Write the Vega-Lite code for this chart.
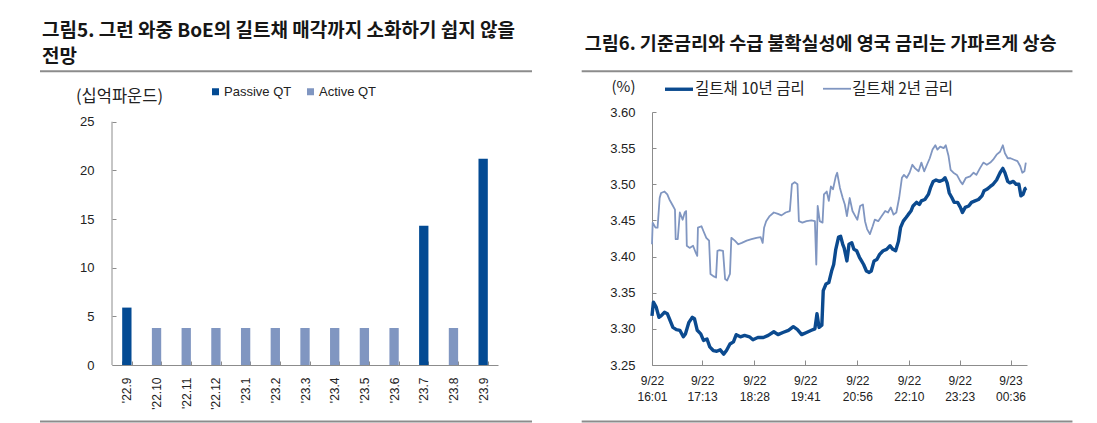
{
  "$schema": "https://vega.github.io/schema/vega-lite/v6.json",
  "background": "white",
  "padding": {"left": 39, "top": 22, "right": 10, "bottom": 0},
  "spacing": 46,
  "config": {
    "view": {"stroke": null},
    "font": "Liberation Sans",
    "axis": {
      "grid": false,
      "domainColor": "#8c8c8c",
      "tickColor": "#8c8c8c",
      "labelColor": "#222222",
      "labelFont": "Liberation Sans",
      "labelOverlap": false
    },
    "title": {
      "anchor": "start",
      "frame": "bounds",
      "font": "Noto Sans CJK KR",
      "fontSize": 18.5,
      "fontWeight": "bold",
      "color": "#161616"
    }
  },
  "resolve": {
    "scale": {"color": "independent", "strokeWidth": "independent"},
    "legend": {"color": "independent", "strokeWidth": "independent"}
  },
  "hconcat": [
    {
      "width": 386,
      "height": 253,
      "title": {
        "text": ["그림5. 그런 와중 BoE의 길트채 매각까지 소화하기 쉽지 않을", "전망"],
        "fontSize": 19,
        "lineHeight": 26,
        "offset": 3,
        "dx": 3
      },
      "data": {
        "values": [
          {"month": "'22.9", "series": "Passive QT", "value": 5.9},
          {"month": "'22.10", "series": "Active QT", "value": 3.8},
          {"month": "'22.11", "series": "Active QT", "value": 3.8},
          {"month": "'22.12", "series": "Active QT", "value": 3.8},
          {"month": "'23.1", "series": "Active QT", "value": 3.8},
          {"month": "'23.2", "series": "Active QT", "value": 3.8},
          {"month": "'23.3", "series": "Active QT", "value": 3.8},
          {"month": "'23.4", "series": "Active QT", "value": 3.8},
          {"month": "'23.5", "series": "Active QT", "value": 3.8},
          {"month": "'23.6", "series": "Active QT", "value": 3.8},
          {"month": "'23.7", "series": "Passive QT", "value": 14.3},
          {"month": "'23.8", "series": "Active QT", "value": 3.8},
          {"month": "'23.9", "series": "Passive QT", "value": 21.2}
        ]
      },
      "layer": [
        {
          "mark": {"type": "bar"},
          "encoding": {
            "x": {
              "field": "month",
              "type": "nominal",
              "sort": null,
              "scale": {"paddingInner": 0.686, "paddingOuter": 0.343},
              "axis": {
                "title": null,
                "labelAngle": 270,
                "labelFontSize": 12,
                "tickBand": "extent",
                "tickSize": -4,
                "labelPadding": 16
              }
            },
            "y": {
              "field": "value",
              "type": "quantitative",
              "stack": null,
              "scale": {"domain": [0, 26], "nice": false},
              "axis": {
                "values": [0, 5, 10, 15, 20, 25],
                "tickCount": 10,
                "domain": false,
                "tickSize": -4,
                "labelPadding": 22,
                "labelFontSize": 13,
                "title": "(십억파운드)",
                "titleAngle": 0,
                "titleAlign": "center",
                "titleBaseline": "middle",
                "titleX": 7,
                "titleY": -16,
                "titleFont": "Noto Sans CJK KR",
                "titleFontSize": 16.5,
                "titleFontWeight": "normal",
                "titleColor": "#222222"
              }
            },
            "color": {
              "field": "series",
              "type": "nominal",
              "scale": {"domain": ["Passive QT", "Active QT"], "range": ["#034a93", "#8096c1"]},
              "legend": {
                "title": null,
                "orient": "none",
                "legendX": 97,
                "legendY": -27,
                "direction": "horizontal",
                "symbolType": "square",
                "symbolSize": 49,
                "symbolStrokeWidth": 0,
                "labelFont": "Liberation Sans",
                "labelFontSize": 13,
                "labelColor": "#222222",
                "labelOffset": 2,
                "columnPadding": 12,
                "padding": 0
              }
            }
          }
        },
        {
          "data": {"values": [{}]},
          "mark": {"type": "rule", "color": "#8c8c8c", "strokeWidth": 2},
          "encoding": {
            "x": {"datum": -0.1865, "type": "quantitative", "scale": {"domain": [0, 1], "nice": false, "zero": false}, "axis": null},
            "x2": {"datum": 1.0881},
            "y": {"datum": 30.19, "type": "quantitative", "scale": {"domain": [0, 26], "nice": false}}
          }
        },
        {
          "data": {"values": [{}]},
          "mark": {"type": "rule", "color": "#8c8c8c", "strokeWidth": 2},
          "encoding": {
            "x": {"datum": -0.1865, "type": "quantitative", "scale": {"domain": [0, 1], "nice": false, "zero": false}, "axis": null},
            "x2": {"datum": 1.0881},
            "y": {"datum": -5.81, "type": "quantitative", "scale": {"domain": [0, 26], "nice": false}}
          }
        },
        {
          "data": {"values": [{}]},
          "mark": {"type": "rule", "color": "#8c8c8c", "strokeWidth": 1},
          "encoding": {
            "x": {"datum": 0, "type": "quantitative", "scale": {"domain": [0, 1], "nice": false, "zero": false}, "axis": null},
            "y": {"datum": 0, "type": "quantitative", "scale": {"domain": [0, 26], "nice": false}},
            "y2": {"datum": 25}
          }
        }
      ],
      "resolve": {"scale": {"x": "independent"}, "axis": {"x": "independent"}}
    },
    {
      "width": 375,
      "height": 253,
      "title": {
        "text": "그림6. 기준금리와 수급 불확실성에 영국 금리는 가파르게 상승",
        "offset": 17,
        "dx": 4
      },
      "data": {
        "values": [
          {"time": "2023-09-22T16:01", "series": "길트채 10년 금리", "rate": 3.318},
          {"time": "2023-09-22T16:03", "series": "길트채 10년 금리", "rate": 3.337},
          {"time": "2023-09-22T16:07", "series": "길트채 10년 금리", "rate": 3.330},
          {"time": "2023-09-22T16:11", "series": "길트채 10년 금리", "rate": 3.316},
          {"time": "2023-09-22T16:14", "series": "길트채 10년 금리", "rate": 3.318},
          {"time": "2023-09-22T16:19", "series": "길트채 10년 금리", "rate": 3.323},
          {"time": "2023-09-22T16:23", "series": "길트채 10년 금리", "rate": 3.321},
          {"time": "2023-09-22T16:26", "series": "길트채 10년 금리", "rate": 3.314},
          {"time": "2023-09-22T16:31", "series": "길트채 10년 금리", "rate": 3.302},
          {"time": "2023-09-22T16:36", "series": "길트채 10년 금리", "rate": 3.299},
          {"time": "2023-09-22T16:41", "series": "길트채 10년 금리", "rate": 3.298},
          {"time": "2023-09-22T16:46", "series": "길트채 10년 금리", "rate": 3.289},
          {"time": "2023-09-22T16:49", "series": "길트채 10년 금리", "rate": 3.293},
          {"time": "2023-09-22T16:54", "series": "길트채 10년 금리", "rate": 3.309},
          {"time": "2023-09-22T16:59", "series": "길트채 10년 금리", "rate": 3.316},
          {"time": "2023-09-22T17:02", "series": "길트채 10년 금리", "rate": 3.314},
          {"time": "2023-09-22T17:06", "series": "길트채 10년 금리", "rate": 3.298},
          {"time": "2023-09-22T17:11", "series": "길트채 10년 금리", "rate": 3.293},
          {"time": "2023-09-22T17:15", "series": "길트채 10년 금리", "rate": 3.284},
          {"time": "2023-09-22T17:20", "series": "길트채 10년 금리", "rate": 3.286},
          {"time": "2023-09-22T17:24", "series": "길트채 10년 금리", "rate": 3.275},
          {"time": "2023-09-22T17:29", "series": "길트채 10년 금리", "rate": 3.270},
          {"time": "2023-09-22T17:34", "series": "길트채 10년 금리", "rate": 3.269},
          {"time": "2023-09-22T17:39", "series": "길트채 10년 금리", "rate": 3.271},
          {"time": "2023-09-22T17:44", "series": "길트채 10년 금리", "rate": 3.265},
          {"time": "2023-09-22T17:48", "series": "길트채 10년 금리", "rate": 3.270},
          {"time": "2023-09-22T17:53", "series": "길트채 10년 금리", "rate": 3.279},
          {"time": "2023-09-22T17:58", "series": "길트채 10년 금리", "rate": 3.282},
          {"time": "2023-09-22T18:02", "series": "길트채 10년 금리", "rate": 3.292},
          {"time": "2023-09-22T18:08", "series": "길트채 10년 금리", "rate": 3.289},
          {"time": "2023-09-22T18:14", "series": "길트채 10년 금리", "rate": 3.291},
          {"time": "2023-09-22T18:21", "series": "길트채 10년 금리", "rate": 3.289},
          {"time": "2023-09-22T18:26", "series": "길트채 10년 금리", "rate": 3.285},
          {"time": "2023-09-22T18:33", "series": "길트채 10년 금리", "rate": 3.288},
          {"time": "2023-09-22T18:41", "series": "길트채 10년 금리", "rate": 3.288},
          {"time": "2023-09-22T18:48", "series": "길트채 10년 금리", "rate": 3.291},
          {"time": "2023-09-22T18:56", "series": "길트채 10년 금리", "rate": 3.296},
          {"time": "2023-09-22T19:02", "series": "길트채 10년 금리", "rate": 3.292},
          {"time": "2023-09-22T19:09", "series": "길트채 10년 금리", "rate": 3.295},
          {"time": "2023-09-22T19:17", "series": "길트채 10년 금리", "rate": 3.298},
          {"time": "2023-09-22T19:24", "series": "길트채 10년 금리", "rate": 3.303},
          {"time": "2023-09-22T19:30", "series": "길트채 10년 금리", "rate": 3.299},
          {"time": "2023-09-22T19:36", "series": "길트채 10년 금리", "rate": 3.292},
          {"time": "2023-09-22T19:43", "series": "길트채 10년 금리", "rate": 3.295},
          {"time": "2023-09-22T19:50", "series": "길트채 10년 금리", "rate": 3.298},
          {"time": "2023-09-22T19:55", "series": "길트채 10년 금리", "rate": 3.300},
          {"time": "2023-09-22T19:58", "series": "길트채 10년 금리", "rate": 3.321},
          {"time": "2023-09-22T20:01", "series": "길트채 10년 금리", "rate": 3.302},
          {"time": "2023-09-22T20:05", "series": "길트채 10년 금리", "rate": 3.305},
          {"time": "2023-09-22T20:07", "series": "길트채 10년 금리", "rate": 3.353},
          {"time": "2023-09-22T20:11", "series": "길트채 10년 금리", "rate": 3.362},
          {"time": "2023-09-22T20:15", "series": "길트채 10년 금리", "rate": 3.364},
          {"time": "2023-09-22T20:19", "series": "길트채 10년 금리", "rate": 3.380},
          {"time": "2023-09-22T20:22", "series": "길트채 10년 금리", "rate": 3.389},
          {"time": "2023-09-22T20:25", "series": "길트채 10년 금리", "rate": 3.410},
          {"time": "2023-09-22T20:29", "series": "길트채 10년 금리", "rate": 3.427},
          {"time": "2023-09-22T20:32", "series": "길트채 10년 금리", "rate": 3.428},
          {"time": "2023-09-22T20:35", "series": "길트채 10년 금리", "rate": 3.417},
          {"time": "2023-09-22T20:37", "series": "길트채 10년 금리", "rate": 3.412},
          {"time": "2023-09-22T20:41", "series": "길트채 10년 금리", "rate": 3.394},
          {"time": "2023-09-22T20:44", "series": "길트채 10년 금리", "rate": 3.417},
          {"time": "2023-09-22T20:48", "series": "길트채 10년 금리", "rate": 3.419},
          {"time": "2023-09-22T20:51", "series": "길트채 10년 금리", "rate": 3.410},
          {"time": "2023-09-22T20:55", "series": "길트채 10년 금리", "rate": 3.408},
          {"time": "2023-09-22T20:59", "series": "길트채 10년 금리", "rate": 3.399},
          {"time": "2023-09-22T21:02", "series": "길트채 10년 금리", "rate": 3.394},
          {"time": "2023-09-22T21:05", "series": "길트채 10년 금리", "rate": 3.389},
          {"time": "2023-09-22T21:09", "series": "길트채 10년 금리", "rate": 3.380},
          {"time": "2023-09-22T21:13", "series": "길트채 10년 금리", "rate": 3.378},
          {"time": "2023-09-22T21:16", "series": "길트채 10년 금리", "rate": 3.380},
          {"time": "2023-09-22T21:20", "series": "길트채 10년 금리", "rate": 3.394},
          {"time": "2023-09-22T21:24", "series": "길트채 10년 금리", "rate": 3.396},
          {"time": "2023-09-22T21:28", "series": "길트채 10년 금리", "rate": 3.403},
          {"time": "2023-09-22T21:33", "series": "길트채 10년 금리", "rate": 3.408},
          {"time": "2023-09-22T21:38", "series": "길트채 10년 금리", "rate": 3.410},
          {"time": "2023-09-22T21:43", "series": "길트채 10년 금리", "rate": 3.415},
          {"time": "2023-09-22T21:47", "series": "길트채 10년 금리", "rate": 3.410},
          {"time": "2023-09-22T21:51", "series": "길트채 10년 금리", "rate": 3.408},
          {"time": "2023-09-22T21:55", "series": "길트채 10년 금리", "rate": 3.421},
          {"time": "2023-09-22T21:58", "series": "길트채 10년 금리", "rate": 3.440},
          {"time": "2023-09-22T22:02", "series": "길트채 10년 금리", "rate": 3.449},
          {"time": "2023-09-22T22:06", "series": "길트채 10년 금리", "rate": 3.454},
          {"time": "2023-09-22T22:09", "series": "길트채 10년 금리", "rate": 3.458},
          {"time": "2023-09-22T22:13", "series": "길트채 10년 금리", "rate": 3.463},
          {"time": "2023-09-22T22:16", "series": "길트채 10년 금리", "rate": 3.470},
          {"time": "2023-09-22T22:21", "series": "길트채 10년 금리", "rate": 3.475},
          {"time": "2023-09-22T22:25", "series": "길트채 10년 금리", "rate": 3.472},
          {"time": "2023-09-22T22:28", "series": "길트채 10년 금리", "rate": 3.477},
          {"time": "2023-09-22T22:33", "series": "길트채 10년 금리", "rate": 3.479},
          {"time": "2023-09-22T22:38", "series": "길트채 10년 금리", "rate": 3.486},
          {"time": "2023-09-22T22:41", "series": "길트채 10년 금리", "rate": 3.495},
          {"time": "2023-09-22T22:45", "series": "길트채 10년 금리", "rate": 3.504},
          {"time": "2023-09-22T22:49", "series": "길트채 10년 금리", "rate": 3.506},
          {"time": "2023-09-22T22:54", "series": "길트채 10년 금리", "rate": 3.504},
          {"time": "2023-09-22T22:59", "series": "길트채 10년 금리", "rate": 3.506},
          {"time": "2023-09-22T23:02", "series": "길트채 10년 금리", "rate": 3.509},
          {"time": "2023-09-22T23:05", "series": "길트채 10년 금리", "rate": 3.502},
          {"time": "2023-09-22T23:08", "series": "길트채 10년 금리", "rate": 3.488},
          {"time": "2023-09-22T23:12", "series": "길트채 10년 금리", "rate": 3.481},
          {"time": "2023-09-22T23:15", "series": "길트채 10년 금리", "rate": 3.475},
          {"time": "2023-09-22T23:20", "series": "길트채 10년 금리", "rate": 3.475},
          {"time": "2023-09-22T23:24", "series": "길트채 10년 금리", "rate": 3.468},
          {"time": "2023-09-22T23:27", "series": "길트채 10년 금리", "rate": 3.461},
          {"time": "2023-09-22T23:31", "series": "길트채 10년 금리", "rate": 3.468},
          {"time": "2023-09-22T23:36", "series": "길트채 10년 금리", "rate": 3.470},
          {"time": "2023-09-22T23:40", "series": "길트채 10년 금리", "rate": 3.475},
          {"time": "2023-09-22T23:45", "series": "길트채 10년 금리", "rate": 3.477},
          {"time": "2023-09-22T23:50", "series": "길트채 10년 금리", "rate": 3.479},
          {"time": "2023-09-22T23:55", "series": "길트채 10년 금리", "rate": 3.484},
          {"time": "2023-09-22T23:58", "series": "길트채 10년 금리", "rate": 3.491},
          {"time": "2023-09-23T00:02", "series": "길트채 10년 금리", "rate": 3.493},
          {"time": "2023-09-23T00:07", "series": "길트채 10년 금리", "rate": 3.497},
          {"time": "2023-09-23T00:11", "series": "길트채 10년 금리", "rate": 3.500},
          {"time": "2023-09-23T00:16", "series": "길트채 10년 금리", "rate": 3.506},
          {"time": "2023-09-23T00:21", "series": "길트채 10년 금리", "rate": 3.516},
          {"time": "2023-09-23T00:25", "series": "길트채 10년 금리", "rate": 3.522},
          {"time": "2023-09-23T00:28", "series": "길트채 10년 금리", "rate": 3.516},
          {"time": "2023-09-23T00:32", "series": "길트채 10년 금리", "rate": 3.504},
          {"time": "2023-09-23T00:35", "series": "길트채 10년 금리", "rate": 3.502},
          {"time": "2023-09-23T00:40", "series": "길트채 10년 금리", "rate": 3.504},
          {"time": "2023-09-23T00:44", "series": "길트채 10년 금리", "rate": 3.500},
          {"time": "2023-09-23T00:48", "series": "길트채 10년 금리", "rate": 3.500},
          {"time": "2023-09-23T00:51", "series": "길트채 10년 금리", "rate": 3.484},
          {"time": "2023-09-23T00:54", "series": "길트채 10년 금리", "rate": 3.486},
          {"time": "2023-09-23T00:57", "series": "길트채 10년 금리", "rate": 3.494},
          {"time": "2023-09-23T00:59", "series": "길트채 10년 금리", "rate": 3.495},
          {"time": "2023-09-22T16:01", "series": "길트채 2년 금리", "rate": 3.417},
          {"time": "2023-09-22T16:02", "series": "길트채 2년 금리", "rate": 3.447},
          {"time": "2023-09-22T16:06", "series": "길트채 2년 금리", "rate": 3.440},
          {"time": "2023-09-22T16:09", "series": "길트채 2년 금리", "rate": 3.440},
          {"time": "2023-09-22T16:12", "series": "길트채 2년 금리", "rate": 3.481},
          {"time": "2023-09-22T16:14", "series": "길트채 2년 금리", "rate": 3.488},
          {"time": "2023-09-22T16:19", "series": "길트채 2년 금리", "rate": 3.490},
          {"time": "2023-09-22T16:23", "series": "길트채 2년 금리", "rate": 3.486},
          {"time": "2023-09-22T16:26", "series": "길트채 2년 금리", "rate": 3.479},
          {"time": "2023-09-22T16:30", "series": "길트채 2년 금리", "rate": 3.472},
          {"time": "2023-09-22T16:34", "series": "길트채 2년 금리", "rate": 3.465},
          {"time": "2023-09-22T16:35", "series": "길트채 2년 금리", "rate": 3.424},
          {"time": "2023-09-22T16:38", "series": "길트채 2년 금리", "rate": 3.424},
          {"time": "2023-09-22T16:41", "series": "길트채 2년 금리", "rate": 3.461},
          {"time": "2023-09-22T16:45", "series": "길트채 2년 금리", "rate": 3.451},
          {"time": "2023-09-22T16:48", "series": "길트채 2년 금리", "rate": 3.461},
          {"time": "2023-09-22T16:50", "series": "길트채 2년 금리", "rate": 3.463},
          {"time": "2023-09-22T16:51", "series": "길트채 2년 금리", "rate": 3.415},
          {"time": "2023-09-22T16:55", "series": "길트채 2년 금리", "rate": 3.412},
          {"time": "2023-09-22T17:00", "series": "길트채 2년 금리", "rate": 3.415},
          {"time": "2023-09-22T17:04", "series": "길트채 2년 금리", "rate": 3.405},
          {"time": "2023-09-22T17:06", "series": "길트채 2년 금리", "rate": 3.401},
          {"time": "2023-09-22T17:07", "series": "길트채 2년 금리", "rate": 3.440},
          {"time": "2023-09-22T17:12", "series": "길트채 2년 금리", "rate": 3.442},
          {"time": "2023-09-22T17:15", "series": "길트채 2년 금리", "rate": 3.435},
          {"time": "2023-09-22T17:19", "series": "길트채 2년 금리", "rate": 3.426},
          {"time": "2023-09-22T17:23", "series": "길트채 2년 금리", "rate": 3.422},
          {"time": "2023-09-22T17:25", "series": "길트채 2년 금리", "rate": 3.376},
          {"time": "2023-09-22T17:29", "series": "길트채 2년 금리", "rate": 3.373},
          {"time": "2023-09-22T17:33", "series": "길트채 2년 금리", "rate": 3.371},
          {"time": "2023-09-22T17:35", "series": "길트채 2년 금리", "rate": 3.408},
          {"time": "2023-09-22T17:38", "series": "길트채 2년 금리", "rate": 3.409},
          {"time": "2023-09-22T17:43", "series": "길트채 2년 금리", "rate": 3.408},
          {"time": "2023-09-22T17:46", "series": "길트채 2년 금리", "rate": 3.369},
          {"time": "2023-09-22T17:49", "series": "길트채 2년 금리", "rate": 3.367},
          {"time": "2023-09-22T17:53", "series": "길트채 2년 금리", "rate": 3.376},
          {"time": "2023-09-22T17:55", "series": "길트채 2년 금리", "rate": 3.426},
          {"time": "2023-09-22T18:00", "series": "길트채 2년 금리", "rate": 3.422},
          {"time": "2023-09-22T18:05", "series": "길트채 2년 금리", "rate": 3.417},
          {"time": "2023-09-22T18:10", "series": "길트채 2년 금리", "rate": 3.419},
          {"time": "2023-09-22T18:17", "series": "길트채 2년 금리", "rate": 3.422},
          {"time": "2023-09-22T18:24", "series": "길트채 2년 금리", "rate": 3.424},
          {"time": "2023-09-22T18:31", "series": "길트채 2년 금리", "rate": 3.426},
          {"time": "2023-09-22T18:37", "series": "길트채 2년 금리", "rate": 3.427},
          {"time": "2023-09-22T18:40", "series": "길트채 2년 금리", "rate": 3.419},
          {"time": "2023-09-22T18:42", "series": "길트채 2년 금리", "rate": 3.440},
          {"time": "2023-09-22T18:45", "series": "길트채 2년 금리", "rate": 3.449},
          {"time": "2023-09-22T18:50", "series": "길트채 2년 금리", "rate": 3.456},
          {"time": "2023-09-22T18:56", "series": "길트채 2년 금리", "rate": 3.461},
          {"time": "2023-09-22T19:02", "series": "길트채 2년 금리", "rate": 3.459},
          {"time": "2023-09-22T19:07", "series": "길트채 2년 금리", "rate": 3.457},
          {"time": "2023-09-22T19:13", "series": "길트채 2년 금리", "rate": 3.461},
          {"time": "2023-09-22T19:19", "series": "길트채 2년 금리", "rate": 3.463},
          {"time": "2023-09-22T19:22", "series": "길트채 2년 금리", "rate": 3.500},
          {"time": "2023-09-22T19:26", "series": "길트채 2년 금리", "rate": 3.503},
          {"time": "2023-09-22T19:30", "series": "길트채 2년 금리", "rate": 3.500},
          {"time": "2023-09-22T19:32", "series": "길트채 2년 금리", "rate": 3.449},
          {"time": "2023-09-22T19:37", "series": "길트채 2년 금리", "rate": 3.447},
          {"time": "2023-09-22T19:43", "series": "길트채 2년 금리", "rate": 3.449},
          {"time": "2023-09-22T19:50", "series": "길트채 2년 금리", "rate": 3.450},
          {"time": "2023-09-22T19:55", "series": "길트채 2년 금리", "rate": 3.449},
          {"time": "2023-09-22T19:57", "series": "길트채 2년 금리", "rate": 3.389},
          {"time": "2023-09-22T19:59", "series": "길트채 2년 금리", "rate": 3.470},
          {"time": "2023-09-22T20:02", "series": "길트채 2년 금리", "rate": 3.449},
          {"time": "2023-09-22T20:06", "series": "길트채 2년 금리", "rate": 3.447},
          {"time": "2023-09-22T20:08", "series": "길트채 2년 금리", "rate": 3.486},
          {"time": "2023-09-22T20:12", "series": "길트채 2년 금리", "rate": 3.490},
          {"time": "2023-09-22T20:15", "series": "길트채 2년 금리", "rate": 3.477},
          {"time": "2023-09-22T20:18", "series": "길트채 2년 금리", "rate": 3.497},
          {"time": "2023-09-22T20:21", "series": "길트채 2년 금리", "rate": 3.493},
          {"time": "2023-09-22T20:25", "series": "길트채 2년 금리", "rate": 3.511},
          {"time": "2023-09-22T20:27", "series": "길트채 2년 금리", "rate": 3.516},
          {"time": "2023-09-22T20:31", "series": "길트채 2년 금리", "rate": 3.495},
          {"time": "2023-09-22T20:35", "series": "길트채 2년 금리", "rate": 3.481},
          {"time": "2023-09-22T20:38", "series": "길트채 2년 금리", "rate": 3.472},
          {"time": "2023-09-22T20:41", "series": "길트채 2년 금리", "rate": 3.456},
          {"time": "2023-09-22T20:45", "series": "길트채 2년 금리", "rate": 3.481},
          {"time": "2023-09-22T20:49", "series": "길트채 2년 금리", "rate": 3.463},
          {"time": "2023-09-22T20:53", "series": "길트채 2년 금리", "rate": 3.456},
          {"time": "2023-09-22T20:56", "series": "길트채 2년 금리", "rate": 3.451},
          {"time": "2023-09-22T21:00", "series": "길트채 2년 금리", "rate": 3.470},
          {"time": "2023-09-22T21:04", "series": "길트채 2년 금리", "rate": 3.472},
          {"time": "2023-09-22T21:07", "series": "길트채 2년 금리", "rate": 3.449},
          {"time": "2023-09-22T21:10", "series": "길트채 2년 금리", "rate": 3.438},
          {"time": "2023-09-22T21:14", "series": "길트채 2년 금리", "rate": 3.431},
          {"time": "2023-09-22T21:18", "series": "길트채 2년 금리", "rate": 3.442},
          {"time": "2023-09-22T21:21", "series": "길트채 2년 금리", "rate": 3.451},
          {"time": "2023-09-22T21:26", "series": "길트채 2년 금리", "rate": 3.449},
          {"time": "2023-09-22T21:31", "series": "길트채 2년 금리", "rate": 3.456},
          {"time": "2023-09-22T21:36", "series": "길트채 2년 금리", "rate": 3.463},
          {"time": "2023-09-22T21:40", "series": "길트채 2년 금리", "rate": 3.461},
          {"time": "2023-09-22T21:44", "series": "길트채 2년 금리", "rate": 3.468},
          {"time": "2023-09-22T21:48", "series": "길트채 2년 금리", "rate": 3.458},
          {"time": "2023-09-22T21:52", "series": "길트채 2년 금리", "rate": 3.461},
          {"time": "2023-09-22T21:56", "series": "길트채 2년 금리", "rate": 3.481},
          {"time": "2023-09-22T22:00", "series": "길트채 2년 금리", "rate": 3.509},
          {"time": "2023-09-22T22:03", "series": "길트채 2년 금리", "rate": 3.513},
          {"time": "2023-09-22T22:07", "series": "길트채 2년 금리", "rate": 3.509},
          {"time": "2023-09-22T22:11", "series": "길트채 2년 금리", "rate": 3.516},
          {"time": "2023-09-22T22:15", "series": "길트채 2년 금리", "rate": 3.527},
          {"time": "2023-09-22T22:19", "series": "길트채 2년 금리", "rate": 3.522},
          {"time": "2023-09-22T22:24", "series": "길트채 2년 금리", "rate": 3.518},
          {"time": "2023-09-22T22:28", "series": "길트채 2년 금리", "rate": 3.530},
          {"time": "2023-09-22T22:32", "series": "길트채 2년 금리", "rate": 3.518},
          {"time": "2023-09-22T22:36", "series": "길트채 2년 금리", "rate": 3.527},
          {"time": "2023-09-22T22:40", "series": "길트채 2년 금리", "rate": 3.536},
          {"time": "2023-09-22T22:44", "series": "길트채 2년 금리", "rate": 3.548},
          {"time": "2023-09-22T22:48", "series": "길트채 2년 금리", "rate": 3.554},
          {"time": "2023-09-22T22:51", "series": "길트채 2년 금리", "rate": 3.548},
          {"time": "2023-09-22T22:55", "series": "길트채 2년 금리", "rate": 3.552},
          {"time": "2023-09-22T23:00", "series": "길트채 2년 금리", "rate": 3.550},
          {"time": "2023-09-22T23:03", "series": "길트채 2년 금리", "rate": 3.554},
          {"time": "2023-09-22T23:07", "series": "길트채 2년 금리", "rate": 3.539},
          {"time": "2023-09-22T23:10", "series": "길트채 2년 금리", "rate": 3.520},
          {"time": "2023-09-22T23:14", "series": "길트채 2년 금리", "rate": 3.516},
          {"time": "2023-09-22T23:19", "series": "길트채 2년 금리", "rate": 3.513},
          {"time": "2023-09-22T23:24", "series": "길트채 2년 금리", "rate": 3.504},
          {"time": "2023-09-22T23:27", "series": "길트채 2년 금리", "rate": 3.500},
          {"time": "2023-09-22T23:32", "series": "길트채 2년 금리", "rate": 3.509},
          {"time": "2023-09-22T23:38", "series": "길트채 2년 금리", "rate": 3.511},
          {"time": "2023-09-22T23:43", "series": "길트채 2년 금리", "rate": 3.516},
          {"time": "2023-09-22T23:47", "series": "길트채 2년 금리", "rate": 3.513},
          {"time": "2023-09-22T23:52", "series": "길트채 2년 금리", "rate": 3.522},
          {"time": "2023-09-22T23:57", "series": "길트채 2년 금리", "rate": 3.530},
          {"time": "2023-09-23T00:02", "series": "길트채 2년 금리", "rate": 3.527},
          {"time": "2023-09-23T00:07", "series": "길트채 2년 금리", "rate": 3.530},
          {"time": "2023-09-23T00:11", "series": "길트채 2년 금리", "rate": 3.534},
          {"time": "2023-09-23T00:16", "series": "길트채 2년 금리", "rate": 3.541},
          {"time": "2023-09-23T00:21", "series": "길트채 2년 금리", "rate": 3.545},
          {"time": "2023-09-23T00:25", "series": "길트채 2년 금리", "rate": 3.554},
          {"time": "2023-09-23T00:28", "series": "길트채 2년 금리", "rate": 3.543},
          {"time": "2023-09-23T00:32", "series": "길트채 2년 금리", "rate": 3.536},
          {"time": "2023-09-23T00:36", "series": "길트채 2년 금리", "rate": 3.536},
          {"time": "2023-09-23T00:41", "series": "길트채 2년 금리", "rate": 3.534},
          {"time": "2023-09-23T00:46", "series": "길트채 2년 금리", "rate": 3.532},
          {"time": "2023-09-23T00:50", "series": "길트채 2년 금리", "rate": 3.525},
          {"time": "2023-09-23T00:53", "series": "길트채 2년 금리", "rate": 3.516},
          {"time": "2023-09-23T00:56", "series": "길트채 2년 금리", "rate": 3.518},
          {"time": "2023-09-23T00:58", "series": "길트채 2년 금리", "rate": 3.530}
        ]
      },
      "layer": [
        {
          "mark": {"type": "line", "strokeJoin": "round"},
          "encoding": {
            "x": {
              "field": "time",
              "type": "temporal",
              "scale": {
                "domain": [
                  {"year": 2023, "month": 9, "date": 22, "hours": 16, "minutes": 1},
                  {"year": 2023, "month": 9, "date": 23, "hours": 0, "minutes": 59, "seconds": 42}
                ]
              },
              "axis": {
                "title": null,
                "values": [
                  {"year": 2023, "month": 9, "date": 22, "hours": 16, "minutes": 1},
                  {"year": 2023, "month": 9, "date": 22, "hours": 17, "minutes": 13},
                  {"year": 2023, "month": 9, "date": 22, "hours": 18, "minutes": 28},
                  {"year": 2023, "month": 9, "date": 22, "hours": 19, "minutes": 41},
                  {"year": 2023, "month": 9, "date": 22, "hours": 20, "minutes": 56},
                  {"year": 2023, "month": 9, "date": 22, "hours": 22, "minutes": 10},
                  {"year": 2023, "month": 9, "date": 22, "hours": 23, "minutes": 23},
                  {"year": 2023, "month": 9, "date": 23, "hours": 0, "minutes": 36}
                ],
                "tickCount": 12,
                "labelExpr": "[timeFormat(datum.value, '%-m/%d'), timeFormat(datum.value, '%H:%M')]",
                "labelAlign": "center",
                "labelBaseline": "top",
                "labelFontSize": 12,
                "labelLineHeight": 16.5,
                "labelFlush": false,
                "tickSize": -5,
                "labelPadding": 15
              }
            },
            "y": {
              "field": "rate",
              "type": "quantitative",
              "scale": {"domain": [3.25, 3.6], "nice": false, "zero": false},
              "axis": {
                "values": [3.25, 3.3, 3.35, 3.4, 3.45, 3.5, 3.55, 3.6],
                "tickCount": 12,
                "format": ".2f",
                "tickSize": -4,
                "labelPadding": 21,
                "labelFontSize": 13,
                "title": "(%)",
                "titleAngle": 0,
                "titleAlign": "center",
                "titleBaseline": "middle",
                "titleX": -29,
                "titleY": -26,
                "titleFont": "Noto Sans CJK KR",
                "titleFontSize": 15,
                "titleFontWeight": "normal",
                "titleColor": "#222222"
              }
            },
            "color": {
              "field": "series",
              "type": "nominal",
              "scale": {"domain": ["길트채 10년 금리", "길트채 2년 금리"], "range": ["#0b4a8f", "#8096c1"]},
              "legend": {
                "title": null,
                "orient": "none",
                "legendX": 11,
                "legendY": -39,
                "direction": "horizontal",
                "symbolType": "stroke",
                "symbolSize": 784,
                "labelFont": "Noto Sans CJK KR",
                "labelFontSize": 15.5,
                "labelColor": "#222222",
                "labelOffset": 0,
                "columnPadding": 14,
                "padding": 0
              }
            },
            "strokeWidth": {
              "field": "series",
              "type": "nominal",
              "scale": {"domain": ["길트채 10년 금리", "길트채 2년 금리"], "range": [3.4, 1.8]}
            }
          }
        },
        {
          "data": {"values": [{}]},
          "mark": {"type": "rule", "color": "#8c8c8c", "strokeWidth": 2},
          "encoding": {
            "x": {"datum": {"year": 2023, "month": 9, "date": 22, "hours": 14, "minutes": 20}, "type": "temporal"},
            "x2": {"datum": {"year": 2023, "month": 9, "date": 23, "hours": 2, "minutes": 5}},
            "y": {"datum": 3.6564, "type": "quantitative"}
          }
        },
        {
          "data": {"values": [{}]},
          "mark": {"type": "rule", "color": "#8c8c8c", "strokeWidth": 2},
          "encoding": {
            "x": {"datum": {"year": 2023, "month": 9, "date": 22, "hours": 14, "minutes": 20}, "type": "temporal"},
            "x2": {"datum": {"year": 2023, "month": 9, "date": 23, "hours": 2, "minutes": 5}},
            "y": {"datum": 3.1718, "type": "quantitative"}
          }
        }
      ]
    }
  ]
}
